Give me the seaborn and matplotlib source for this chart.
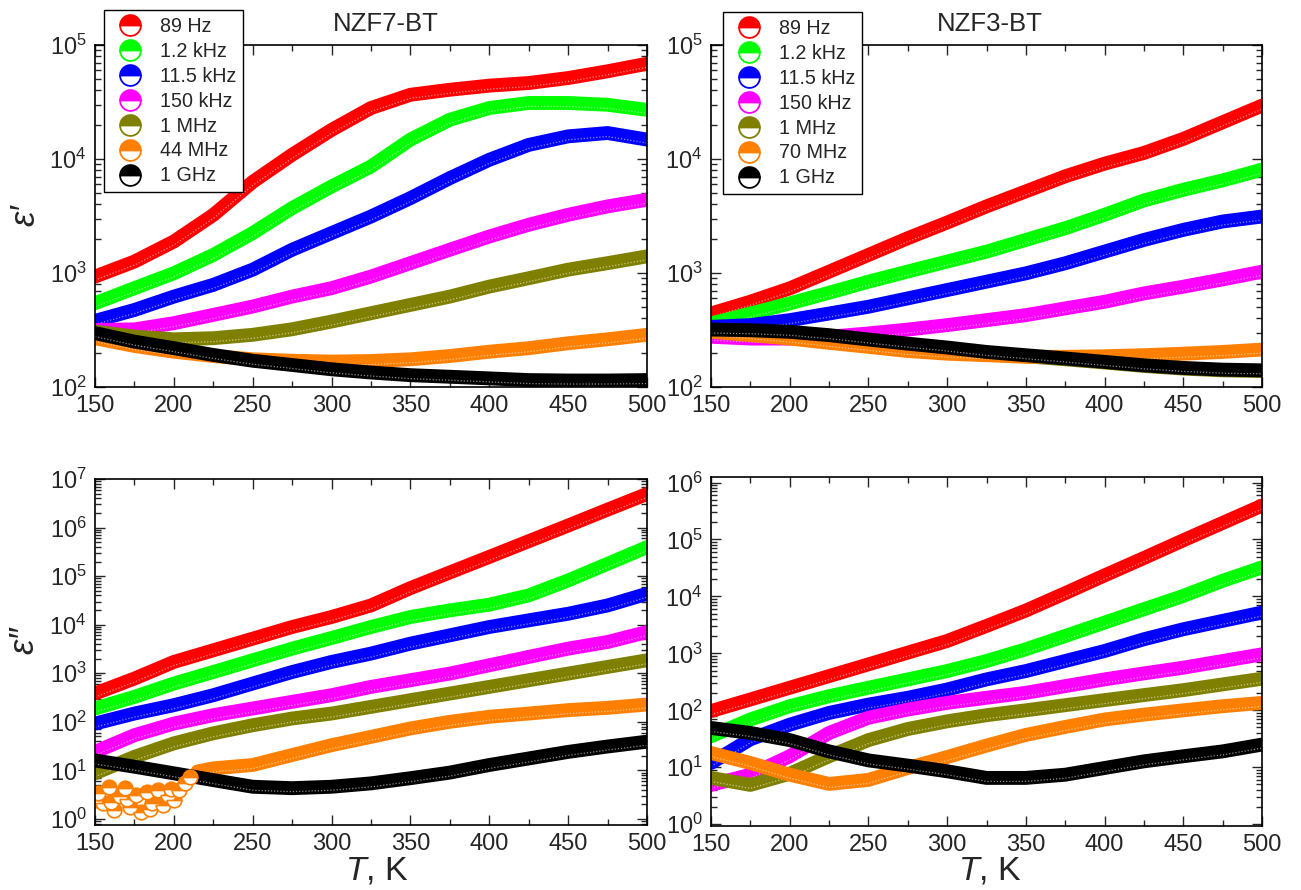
import matplotlib
matplotlib.use("Agg")
import matplotlib.pyplot as plt
from matplotlib.lines import Line2D
from matplotlib.ticker import MultipleLocator, LogLocator, NullFormatter
from matplotlib.transforms import offset_copy
import seaborn as sns

# temperature grid (K)
T = [150, 175, 200, 225, 250, 275, 300, 325, 350, 375, 400, 425, 450, 475, 500]

labels_nzf7 = ["89 Hz", "1.2 kHz", "11.5 kHz", "150 kHz", "1 MHz", "44 MHz", "1 GHz"]
labels_nzf3 = ["89 Hz", "1.2 kHz", "11.5 kHz", "150 kHz", "1 MHz", "70 MHz", "1 GHz"]
colors = ["#ff0000", "#00ff00", "#0000ff", "#ff00ff", "#808000", "#ff8000", "#000000"]

# NZF7-BT, eps'
nzf7_re_89 = [930, 1260, 1890, 3230, 6300, 10900, 18000, 28000, 36600, 40500, 44000, 46400, 51300, 58800, 68500]
nzf7_re_1k2 = [543, 736, 995, 1440, 2240, 3710, 5740, 8600, 14800, 22100, 28000, 31000, 31000, 29900, 27000]
nzf7_re_11k5 = [380, 474, 621, 787, 1070, 1600, 2240, 3130, 4540, 6800, 9840, 13300, 15800, 16900, 14800]
nzf7_re_150k = [317, 320, 363, 429, 508, 621, 736, 931, 1220, 1600, 2090, 2650, 3240, 3840, 4390]
nzf7_re_1M = [306, 277, 262, 268, 287, 321, 375, 444, 525, 621, 760, 900, 1070, 1220, 1400]
nzf7_re_44M = [268, 229, 204, 187, 175, 170, 167, 169, 175, 187, 204, 219, 242, 262, 287]
nzf7_re_1G = [297, 250, 219, 191, 170, 156, 143, 134, 127, 123, 119, 115, 114, 114, 115]

# NZF3-BT, eps'
nzf3_re_89 = [441, 560, 733, 1027, 1440, 2020, 2770, 3840, 5200, 7050, 9100, 11300, 15000, 21000, 29400]
nzf3_re_1k2 = [360, 441, 541, 671, 839, 1030, 1260, 1540, 1950, 2470, 3240, 4330, 5370, 6490, 8060]
nzf3_re_11k5 = [337, 349, 386, 441, 506, 599, 709, 839, 993, 1217, 1541, 1950, 2390, 2830, 3130]
nzf3_re_150k = [276, 266, 266, 276, 295, 319, 349, 386, 427, 489, 559, 662, 758, 879, 1027]
nzf3_re_1M = [305, 300, 290, 272, 252, 233, 216, 199, 186, 175, 164, 153, 145, 140, 138]
nzf3_re_70M = [305, 285, 266, 244, 225, 207, 196, 190, 184, 184, 186, 190, 196, 203, 213]
nzf3_re_1G = [319, 315, 305, 285, 261, 240, 222, 203, 190, 178, 166, 155, 147, 142, 140]

# NZF7-BT, eps''
nzf7_im_89 = [382, 777, 1710, 2970, 5150, 8960, 14400, 24900, 56600, 119000, 249000, 524000, 1.1e6, 2.34e6, 4.92e6]
nzf7_im_1k2 = [188, 326, 614, 1060, 1850, 3210, 5320, 8960, 14400, 19700, 25800, 40100, 81500, 179000, 394000]
nzf7_im_11k5 = [92, 148, 220, 353, 614, 1060, 1710, 2540, 4070, 6040, 8960, 12300, 16800, 24900, 43300]
nzf7_im_150k = [24, 53, 92, 137, 188, 258, 353, 524, 718, 984, 1460, 2170, 3210, 4400, 7060]
nzf7_im_1M = [8.7, 19, 36, 58, 85, 117, 148, 203, 279, 382, 524, 718, 984, 1350, 1850]
T_44M_smooth = [215, 225, 250, 275, 300, 325, 350, 375, 400, 425, 450, 475, 500]
nzf7_im_44M = [9.5, 11, 12.9, 20.7, 33, 49, 73, 100, 127, 148, 174, 194, 227]
T_44M_noisy = [150, 152, 155, 159, 160, 162, 166, 169, 170, 172, 176, 179, 183, 185, 186, 190, 193, 196, 198, 200, 203, 207, 210]
nzf7_im_44M_noisy = [2.4, 3.4, 2.1, 4.6, 2.2, 1.5, 2.9, 4.3, 2.6, 1.8, 3.1, 1.4, 3.6, 1.6, 2.1, 3.9, 1.9, 3.1, 4.2, 2.5, 3.9, 5.4, 7.4]
nzf7_im_1G = [16, 11.9, 8.7, 6.3, 4.6, 4.3, 4.6, 5.4, 6.9, 9.0, 12.9, 17.6, 24, 31, 39]

# NZF3-BT, eps''
nzf3_im_89 = [97, 155, 249, 399, 641, 1030, 1650, 3030, 5650, 11400, 23400, 47200, 96700, 195000, 394000]
nzf3_im_1k2 = [35, 69, 118, 177, 249, 349, 489, 734, 1180, 2020, 3470, 5960, 10200, 18800, 32300]
nzf3_im_11k5 = [11.9, 31, 56, 90, 126, 166, 232, 349, 489, 734, 1100, 1770, 2650, 3720, 5210]
nzf3_im_150k = [4.9, 7.4, 15.6, 40, 74, 103, 135, 166, 203, 266, 349, 445, 560, 734, 962]
nzf3_im_1M = [6.5, 4.9, 7.7, 15.6, 30, 47, 64, 82, 100, 123, 151, 185, 226, 285, 358]
nzf3_im_70M = [17.8, 11.9, 7.4, 5.1, 6.0, 9.7, 15.1, 24, 37, 51, 69, 84, 100, 118, 135]
nzf3_im_1G = [49, 40, 30, 19, 13.2, 10.7, 8.5, 6.5, 6.5, 7.4, 9.7, 12.7, 15.6, 19, 25]

sns.set_style("ticks")
plt.rcParams["font.family"] = ["Liberation Sans", "DejaVu Sans"]
plt.rcParams["mathtext.fontset"] = "custom"
plt.rcParams["mathtext.rm"] = "Liberation Sans"
plt.rcParams["mathtext.it"] = "Liberation Sans:italic"

W, H = 1301, 890
fig = plt.figure(figsize=(W / 100, H / 100), dpi=100)


def px_axes(left, top, right, bottom):
    return fig.add_axes([left / W, 1 - bottom / H, (right - left) / W, (bottom - top) / H])


ax_tl = px_axes(95, 45, 647, 387)
ax_tr = px_axes(711, 45, 1262, 387)
ax_bl = px_axes(95, 479, 647, 825)
ax_br = px_axes(711, 477, 1262, 826)

panels = [
    (ax_tl, [(T, nzf7_re_89), (T, nzf7_re_1k2), (T, nzf7_re_11k5), (T, nzf7_re_150k),
             (T, nzf7_re_1M), (T, nzf7_re_44M), (T, nzf7_re_1G)], (1e2, 1e5)),
    (ax_tr, [(T, nzf3_re_89), (T, nzf3_re_1k2), (T, nzf3_re_11k5), (T, nzf3_re_150k),
             (T, nzf3_re_1M), (T, nzf3_re_70M), (T, nzf3_re_1G)], (1e2, 1e5)),
    (ax_bl, [(T, nzf7_im_89), (T, nzf7_im_1k2), (T, nzf7_im_11k5), (T, nzf7_im_150k),
             (T, nzf7_im_1M), (T_44M_smooth, nzf7_im_44M), (T, nzf7_im_1G)], (0.75, 1e7)),
    (ax_br, [(T, nzf3_im_89), (T, nzf3_im_1k2), (T, nzf3_im_11k5), (T, nzf3_im_150k),
             (T, nzf3_im_1M), (T, nzf3_im_70M), (T, nzf3_im_1G)], (0.93, 1.25e6)),
]

for ax, series, ylim in panels:
    ax.set_yscale("log")
    # dense half-filled symbols merge into a band: solid colour with a faint
    # light streak along the lower (open) half
    shifted = offset_copy(ax.transData, fig=fig, y=-3.5, units="dots")
    for (tt, vals), col in zip(series, colors):
        sns.lineplot(x=tt, y=vals, color=col, linewidth=10, ax=ax, legend=False,
                     estimator=None, sort=False, solid_capstyle="round",
                     solid_joinstyle="round")
        sns.lineplot(x=tt, y=vals, color="white", linewidth=0.9, alpha=0.55, ax=ax,
                     legend=False, estimator=None, sort=False, linestyle=(0, (1, 1.5)),
                     transform=shifted)
    ax.set_xlim(150, 500)
    ax.set_ylim(*ylim)
    ax.xaxis.set_major_locator(MultipleLocator(50))
    ax.xaxis.set_minor_locator(MultipleLocator(25))
    ax.yaxis.set_major_locator(LogLocator(base=10, numticks=15))
    ax.yaxis.set_minor_locator(LogLocator(base=10, subs=[2, 3, 4, 5, 6, 7, 8, 9], numticks=15))
    ax.yaxis.set_minor_formatter(NullFormatter())
    ax.tick_params(which="both", direction="in", top=True, right=True, width=1.0,
                   labelsize=17, pad=6)
    ax.tick_params(which="major", length=7)
    ax.tick_params(which="minor", length=4)
    for sp in ax.spines.values():
        sp.set_linewidth(1.2)
        sp.set_color("black")
    ax.set_xlabel("")
    ax.set_ylabel("")

# noisy low-temperature 44 MHz loss points drawn as half-filled circles
sns.lineplot(x=T_44M_noisy, y=nzf7_im_44M_noisy, color=colors[5], ax=ax_bl, legend=False,
             estimator=None, sort=False, marker="o", linestyle="none", markersize=10.5,
             fillstyle="top", markerfacecoloralt="white", markeredgecolor=colors[5],
             markeredgewidth=1.2)


def make_legend(ax, labels, x_px, y_px):
    handles = [Line2D([], [], linestyle="none", marker="o", markersize=15, fillstyle="top",
                      markerfacecolor=c, markerfacecoloralt="white", markeredgecolor=c,
                      markeredgewidth=1.3) for c in colors]
    leg = ax.legend(handles, labels, loc="upper left", bbox_to_anchor=(x_px / W, 1 - y_px / H),
                    bbox_transform=fig.transFigure, frameon=True, fancybox=False,
                    framealpha=1, edgecolor="black", fontsize=14.2, handlelength=1.9,
                    handletextpad=0.6, labelspacing=0.3, borderpad=0.35, borderaxespad=0)
    leg.get_frame().set_linewidth(1.0)


make_legend(ax_tl, labels_nzf7, 104, 10)
make_legend(ax_tr, labels_nzf3, 723, 12)

fig.text(386 / W, 1 - 24 / H, "NZF7-BT", ha="center", va="center", fontsize=18.5)
fig.text(990 / W, 1 - 24 / H, "NZF3-BT", ha="center", va="center", fontsize=18.5)

fig.text(25 / W, 1 - 215 / H, "ε′", rotation=90, ha="center", va="center",
         fontsize=25, style="italic")
fig.text(24 / W, 1 - 640 / H, "ε″", rotation=90, ha="center", va="center",
         fontsize=25, style="italic")

fig.text(377 / W, 1 - 879 / H, r"$\mathit{T}$, K", ha="center", va="baseline", fontsize=24.5)
fig.text(990 / W, 1 - 879 / H, r"$\mathit{T}$, K", ha="center", va="baseline", fontsize=24.5)

fig.savefig("out.png", dpi=100)
